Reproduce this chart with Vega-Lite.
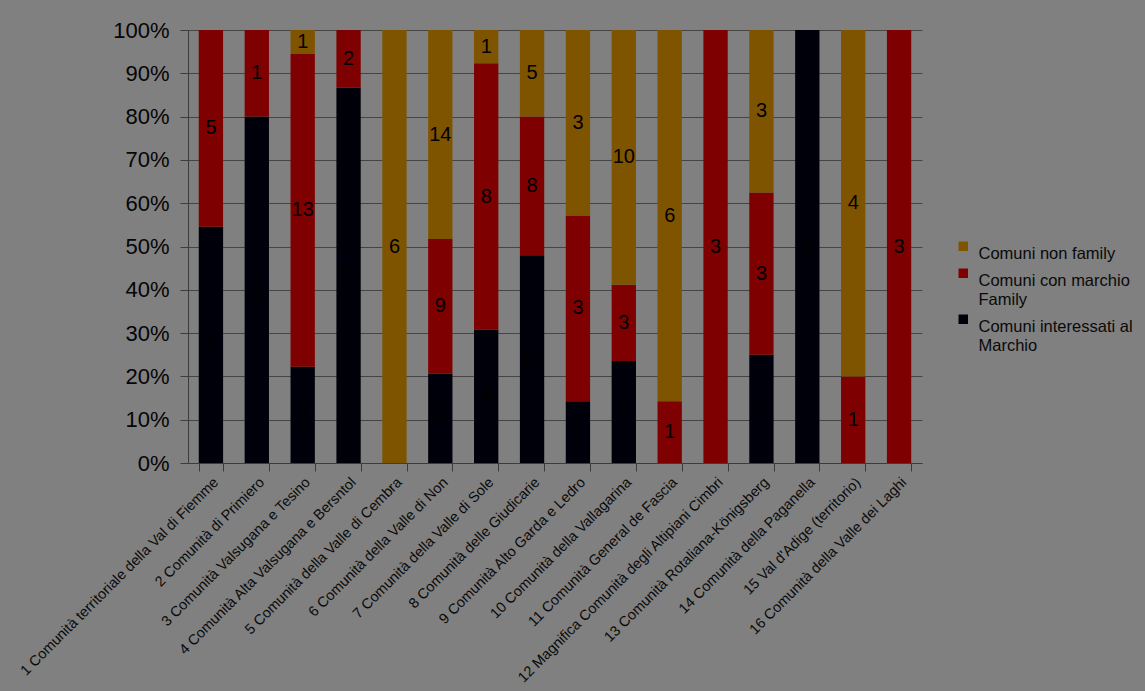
{
  "$schema": "https://vega.github.io/schema/vega-lite/v6.json",
  "width": 734,
  "height": 433,
  "autosize": {"type": "none"},
  "padding": {"left": 188, "top": 30, "right": 223, "bottom": 228},
  "background": "#808080",
  "config": {
    "view": {"stroke": null},
    "font": "Liberation Sans"
  },
  "data": {
    "values": [
      {"c": "1 Comunità territoriale della Val di Fiemme", "s": "Comuni interessati al Marchio", "n": 6},
      {"c": "1 Comunità territoriale della Val di Fiemme", "s": "Comuni con marchio Family", "n": 5},
      {"c": "1 Comunità territoriale della Val di Fiemme", "s": "Comuni non family", "n": 0},
      {"c": "2 Comunità di Primiero", "s": "Comuni interessati al Marchio", "n": 4},
      {"c": "2 Comunità di Primiero", "s": "Comuni con marchio Family", "n": 1},
      {"c": "2 Comunità di Primiero", "s": "Comuni non family", "n": 0},
      {"c": "3 Comunità Valsugana e Tesino", "s": "Comuni interessati al Marchio", "n": 4},
      {"c": "3 Comunità Valsugana e Tesino", "s": "Comuni con marchio Family", "n": 13},
      {"c": "3 Comunità Valsugana e Tesino", "s": "Comuni non family", "n": 1},
      {"c": "4 Comunità Alta Valsugana e Bersntol", "s": "Comuni interessati al Marchio", "n": 13},
      {"c": "4 Comunità Alta Valsugana e Bersntol", "s": "Comuni con marchio Family", "n": 2},
      {"c": "4 Comunità Alta Valsugana e Bersntol", "s": "Comuni non family", "n": 0},
      {"c": "5 Comunità della Valle di Cembra", "s": "Comuni interessati al Marchio", "n": 0},
      {"c": "5 Comunità della Valle di Cembra", "s": "Comuni con marchio Family", "n": 0},
      {"c": "5 Comunità della Valle di Cembra", "s": "Comuni non family", "n": 6},
      {"c": "6 Comunità della Valle di Non", "s": "Comuni interessati al Marchio", "n": 6},
      {"c": "6 Comunità della Valle di Non", "s": "Comuni con marchio Family", "n": 9},
      {"c": "6 Comunità della Valle di Non", "s": "Comuni non family", "n": 14},
      {"c": "7 Comunità della Valle di Sole", "s": "Comuni interessati al Marchio", "n": 4},
      {"c": "7 Comunità della Valle di Sole", "s": "Comuni con marchio Family", "n": 8},
      {"c": "7 Comunità della Valle di Sole", "s": "Comuni non family", "n": 1},
      {"c": "8 Comunità delle Giudicarie", "s": "Comuni interessati al Marchio", "n": 12},
      {"c": "8 Comunità delle Giudicarie", "s": "Comuni con marchio Family", "n": 8},
      {"c": "8 Comunità delle Giudicarie", "s": "Comuni non family", "n": 5},
      {"c": "9 Comunità Alto Garda e Ledro", "s": "Comuni interessati al Marchio", "n": 1},
      {"c": "9 Comunità Alto Garda e Ledro", "s": "Comuni con marchio Family", "n": 3},
      {"c": "9 Comunità Alto Garda e Ledro", "s": "Comuni non family", "n": 3},
      {"c": "10 Comunità della Vallagarina", "s": "Comuni interessati al Marchio", "n": 4},
      {"c": "10 Comunità della Vallagarina", "s": "Comuni con marchio Family", "n": 3},
      {"c": "10 Comunità della Vallagarina", "s": "Comuni non family", "n": 10},
      {"c": "11 Comunità General de Fascia", "s": "Comuni interessati al Marchio", "n": 0},
      {"c": "11 Comunità General de Fascia", "s": "Comuni con marchio Family", "n": 1},
      {"c": "11 Comunità General de Fascia", "s": "Comuni non family", "n": 6},
      {"c": "12 Magnifica Comunità degli Altipiani Cimbri", "s": "Comuni interessati al Marchio", "n": 0},
      {"c": "12 Magnifica Comunità degli Altipiani Cimbri", "s": "Comuni con marchio Family", "n": 3},
      {"c": "12 Magnifica Comunità degli Altipiani Cimbri", "s": "Comuni non family", "n": 0},
      {"c": "13 Comunità Rotaliana-Königsberg", "s": "Comuni interessati al Marchio", "n": 2},
      {"c": "13 Comunità Rotaliana-Königsberg", "s": "Comuni con marchio Family", "n": 3},
      {"c": "13 Comunità Rotaliana-Königsberg", "s": "Comuni non family", "n": 3},
      {"c": "14 Comunità della Paganella", "s": "Comuni interessati al Marchio", "n": 5},
      {"c": "14 Comunità della Paganella", "s": "Comuni con marchio Family", "n": 0},
      {"c": "14 Comunità della Paganella", "s": "Comuni non family", "n": 0},
      {"c": "15 Val d'Adige  (territorio)", "s": "Comuni interessati al Marchio", "n": 0},
      {"c": "15 Val d'Adige  (territorio)", "s": "Comuni con marchio Family", "n": 1},
      {"c": "15 Val d'Adige  (territorio)", "s": "Comuni non family", "n": 4},
      {"c": "16 Comunità della Valle dei Laghi", "s": "Comuni interessati al Marchio", "n": 0},
      {"c": "16 Comunità della Valle dei Laghi", "s": "Comuni con marchio Family", "n": 3},
      {"c": "16 Comunità della Valle dei Laghi", "s": "Comuni non family", "n": 0}
    ]
  },
  "transform": [
    {"calculate": "indexof(['Comuni interessati al Marchio','Comuni con marchio Family','Comuni non family'], datum.s)", "as": "ord"},
    {"stack": "n", "groupby": ["c"], "sort": [{"field": "ord", "order": "ascending"}], "offset": "normalize", "as": ["y0", "y1"]},
    {"calculate": "(datum.y0 + datum.y1) / 2", "as": "ym"}
  ],
  "encoding": {
    "x": {
      "field": "c", "type": "nominal", "sort": null,
      "scale": {"paddingInner": 0.47, "paddingOuter": 0.235},
      "axis": {
        "title": null, "labelAngle": -45, "labelAlign": "right", "labelBaseline": "top",
        "labelFontSize": 14.5, "labelColor": "#0a0a0a", "labelLimit": 400, "labelOverlap": false,
        "tickBand": "extent", "tickColor": "#3c3c3c", "tickSize": 8,
        "domainColor": "#3c3c3c", "labelPadding": 4
      }
    }
  },
  "layer": [
    {
      "mark": {"type": "bar"},
      "encoding": {
        "y": {
          "field": "y0", "type": "quantitative",
          "scale": {"domain": [0, 1]},
          "axis": {
            "title": null, "format": ".0%", "values": [0,0.1,0.2,0.3,0.4,0.5,0.6,0.7,0.8,0.9,1],
            "labelOverlap": false,
            "labelFontSize": 22, "labelColor": "#050505", "labelPadding": 11,
            "grid": true, "gridColor": "#454545", "domainColor": "#3c3c3c",
            "tickColor": "#3c3c3c", "tickSize": 8
          }
        },
        "y2": {"field": "y1"},
        "color": {
          "field": "s", "type": "nominal",
          "scale": {
            "domain": ["Comuni non family", "Comuni con marchio Family", "Comuni interessati al Marchio"],
            "range": ["#7f5400", "#7f0000", "#00000b"]
          },
          "legend": {
            "title": null, "orient": "none", "legendX": 767, "legendY": 208,
            "symbolType": "square", "symbolSize": 90, "symbolStrokeWidth": 0,
            "labelFontSize": 16.5, "labelColor": "#0a0a0a", "labelLimit": 300, "rowPadding": 2,
            "labelExpr": "datum.label == 'Comuni con marchio Family' ? ['Comuni con marchio', 'Family'] : datum.label == 'Comuni interessati al Marchio' ? ['Comuni interessati al', 'Marchio'] : datum.label",
            "labelBaseline": "top", "labelOffset": 7
          }
        }
      }
    },
    {
      "transform": [{"filter": "datum.n > 0"}],
      "mark": {"type": "text", "fontSize": 20, "color": "#000000", "baseline": "middle"},
      "encoding": {
        "y": {"field": "ym", "type": "quantitative"},
        "text": {"field": "n", "type": "quantitative"}
      }
    }
  ]
}
